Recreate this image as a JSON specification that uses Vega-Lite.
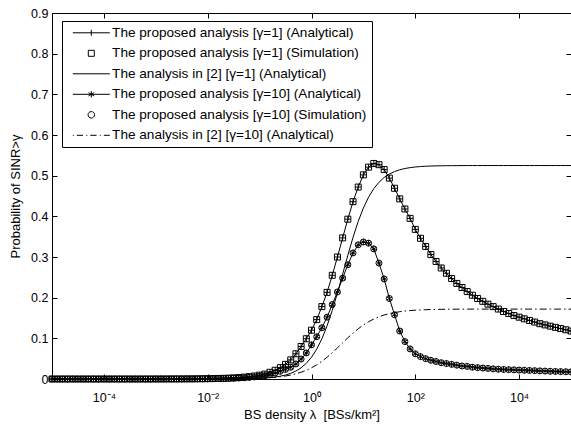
{
  "$schema": "https://vega.github.io/schema/vega-lite/v6.json",
  "autosize": "none",
  "padding": {"left": 52, "top": 13, "right": 0, "bottom": 46},
  "width": 519,
  "height": 366,
  "config": {
    "font": "Liberation Sans",
    "view": {"stroke": "black", "strokeWidth": 1},
    "axis": {"domainColor": "black", "tickColor": "black", "labelColor": "black", "titleColor": "black", "grid": false, "labelFont": "Liberation Sans", "titleFont": "Liberation Sans", "titleFontWeight": "normal", "labelFontSize": 12.5, "titleFontSize": 13, "tickSize": -5, "domainWidth": 1, "tickWidth": 1}
  },
  "data": {"values": [
    {"x":1e-5,"p1":0,"p10":0,"a1":0,"a10":0},
    {"x":1.259e-5,"p1":0,"p10":0,"a1":0,"a10":0},
    {"x":1.585e-5,"p1":0,"p10":0,"a1":0,"a10":0},
    {"x":1.995e-5,"p1":0,"p10":0,"a1":0,"a10":0},
    {"x":2.512e-5,"p1":0,"p10":0,"a1":0,"a10":0},
    {"x":3.162e-5,"p1":0,"p10":0,"a1":0,"a10":0},
    {"x":3.981e-5,"p1":0,"p10":0,"a1":0,"a10":0},
    {"x":5.012e-5,"p1":0,"p10":0,"a1":0,"a10":0},
    {"x":6.31e-5,"p1":0,"p10":0,"a1":0,"a10":0},
    {"x":7.943e-5,"p1":0,"p10":0,"a1":0,"a10":0},
    {"x":1e-4,"p1":0,"p10":0,"a1":0,"a10":0},
    {"x":1.259e-4,"p1":0,"p10":0,"a1":0,"a10":0},
    {"x":1.585e-4,"p1":0,"p10":0,"a1":0,"a10":0},
    {"x":1.995e-4,"p1":0,"p10":0,"a1":0,"a10":0},
    {"x":2.512e-4,"p1":0,"p10":0,"a1":0,"a10":0},
    {"x":3.162e-4,"p1":0,"p10":0,"a1":0,"a10":0},
    {"x":3.981e-4,"p1":0,"p10":0,"a1":0,"a10":0},
    {"x":5.012e-4,"p1":0,"p10":0,"a1":0,"a10":0},
    {"x":6.31e-4,"p1":0,"p10":0,"a1":0,"a10":0},
    {"x":7.943e-4,"p1":0,"p10":0,"a1":0,"a10":0},
    {"x":1e-3,"p1":0.00006,"p10":0.00004,"a1":0,"a10":0.00001},
    {"x":1.259e-3,"p1":0.00008,"p10":0.00005,"a1":0,"a10":0.00001},
    {"x":1.585e-3,"p1":0.0001,"p10":0.00007,"a1":0,"a10":0.00002},
    {"x":1.995e-3,"p1":0.00013,"p10":0.00009,"a1":0.00001,"a10":0.00002},
    {"x":2.512e-3,"p1":0.00017,"p10":0.00012,"a1":0.00001,"a10":0.00003},
    {"x":3.162e-3,"p1":0.00022,"p10":0.00015,"a1":0.00001,"a10":0.00004},
    {"x":3.981e-3,"p1":0.00029,"p10":0.0002,"a1":0.00002,"a10":0.00005},
    {"x":5.012e-3,"p1":0.00037,"p10":0.00026,"a1":0.00002,"a10":0.00006},
    {"x":6.31e-3,"p1":0.00048,"p10":0.00034,"a1":0.00003,"a10":0.00007},
    {"x":7.943e-3,"p1":0.00062,"p10":0.00043,"a1":0.00004,"a10":0.00008},
    {"x":0.01,"p1":0.0008,"p10":0.00056,"a1":0.00005,"a10":0.0001},
    {"x":0.01259,"p1":0.001,"p10":0.0007,"a1":0.00007,"a10":0.00014},
    {"x":0.01585,"p1":0.0013,"p10":0.0009,"a1":0.0001,"a10":0.00018},
    {"x":0.01995,"p1":0.0016,"p10":0.0011,"a1":0.00014,"a10":0.00025},
    {"x":0.02512,"p1":0.0021,"p10":0.0015,"a1":0.0002,"a10":0.00033},
    {"x":0.03162,"p1":0.0027,"p10":0.0019,"a1":0.00028,"a10":0.00044},
    {"x":0.03981,"p1":0.0035,"p10":0.0024,"a1":0.0004,"a10":0.00058},
    {"x":0.05012,"p1":0.0045,"p10":0.0031,"a1":0.00058,"a10":0.00078},
    {"x":0.0631,"p1":0.0058,"p10":0.004,"a1":0.00082,"a10":0.00103},
    {"x":0.07943,"p1":0.0074,"p10":0.0051,"a1":0.00117,"a10":0.00137},
    {"x":0.1,"p1":0.0095,"p10":0.0065,"a1":0.00167,"a10":0.00182},
    {"x":0.1259,"p1":0.012,"p10":0.0082,"a1":0.0024,"a10":0.00242},
    {"x":0.1585,"p1":0.0165,"p10":0.0113,"a1":0.0034,"a10":0.0032},
    {"x":0.1995,"p1":0.0215,"p10":0.0147,"a1":0.0049,"a10":0.0043},
    {"x":0.2512,"p1":0.028,"p10":0.019,"a1":0.0069,"a10":0.0056},
    {"x":0.3162,"p1":0.036,"p10":0.0235,"a1":0.0098,"a10":0.0074},
    {"x":0.3981,"p1":0.047,"p10":0.029,"a1":0.0139,"a10":0.0098},
    {"x":0.5012,"p1":0.062,"p10":0.037,"a1":0.0196,"a10":0.0128},
    {"x":0.631,"p1":0.08,"p10":0.049,"a1":0.0276,"a10":0.0167},
    {"x":0.7943,"p1":0.099,"p10":0.064,"a1":0.0386,"a10":0.0215},
    {"x":1,"p1":0.12,"p10":0.084,"a1":0.0535,"a10":0.0275},
    {"x":1.259,"p1":0.146,"p10":0.104,"a1":0.0732,"a10":0.0348},
    {"x":1.585,"p1":0.178,"p10":0.126,"a1":0.0987,"a10":0.0435},
    {"x":1.995,"p1":0.213,"p10":0.152,"a1":0.1306,"a10":0.0535},
    {"x":2.512,"p1":0.255,"p10":0.183,"a1":0.1685,"a10":0.0647},
    {"x":3.162,"p1":0.3,"p10":0.214,"a1":0.2118,"a10":0.0766},
    {"x":3.981,"p1":0.347,"p10":0.248,"a1":0.2579,"a10":0.089},
    {"x":5.012,"p1":0.393,"p10":0.281,"a1":0.3043,"a10":0.1012},
    {"x":6.31,"p1":0.436,"p10":0.31,"a1":0.3483,"a10":0.1128},
    {"x":7.943,"p1":0.472,"p10":0.33,"a1":0.3875,"a10":0.1234},
    {"x":10,"p1":0.502,"p10":0.337,"a1":0.4205,"a10":0.1328},
    {"x":12.59,"p1":0.521,"p10":0.334,"a1":0.4472,"a10":0.1408},
    {"x":15.85,"p1":0.53,"p10":0.32,"a1":0.468,"a10":0.1475},
    {"x":19.95,"p1":0.527,"p10":0.285,"a1":0.4838,"a10":0.153},
    {"x":25.12,"p1":0.515,"p10":0.246,"a1":0.4955,"a10":0.1573},
    {"x":31.62,"p1":0.494,"p10":0.198,"a1":0.504,"a10":0.1607},
    {"x":39.81,"p1":0.469,"p10":0.158,"a1":0.5101,"a10":0.1634},
    {"x":50.12,"p1":0.443,"p10":0.118,"a1":0.5145,"a10":0.1655},
    {"x":63.1,"p1":0.418,"p10":0.092,"a1":0.5176,"a10":0.1671},
    {"x":79.43,"p1":0.395,"p10":0.074,"a1":0.5198,"a10":0.1683},
    {"x":100,"p1":0.368,"p10":0.062,"a1":0.5213,"a10":0.1692},
    {"x":125.9,"p1":0.346,"p10":0.055,"a1":0.5224,"a10":0.1699},
    {"x":158.5,"p1":0.326,"p10":0.05,"a1":0.5232,"a10":0.1704},
    {"x":199.5,"p1":0.306,"p10":0.046,"a1":0.5237,"a10":0.1708},
    {"x":251.2,"p1":0.289,"p10":0.043,"a1":0.5241,"a10":0.1711},
    {"x":316.2,"p1":0.273,"p10":0.04,"a1":0.5243,"a10":0.1713},
    {"x":398.1,"p1":0.26,"p10":0.038,"a1":0.5245,"a10":0.1715},
    {"x":501.2,"p1":0.247,"p10":0.036,"a1":0.5246,"a10":0.1716},
    {"x":631,"p1":0.235,"p10":0.034,"a1":0.5247,"a10":0.1717},
    {"x":794.3,"p1":0.225,"p10":0.032,"a1":0.5248,"a10":0.1718},
    {"x":1000,"p1":0.215,"p10":0.031,"a1":0.5248,"a10":0.1718},
    {"x":1259,"p1":0.206,"p10":0.029,"a1":0.5249,"a10":0.1719},
    {"x":1585,"p1":0.198,"p10":0.028,"a1":0.5249,"a10":0.1719},
    {"x":1995,"p1":0.191,"p10":0.027,"a1":0.5249,"a10":0.1719},
    {"x":2512,"p1":0.184,"p10":0.026,"a1":0.5249,"a10":0.1719},
    {"x":3162,"p1":0.178,"p10":0.025,"a1":0.5249,"a10":0.1719},
    {"x":3981,"p1":0.172,"p10":0.024,"a1":0.5249,"a10":0.1719},
    {"x":5012,"p1":0.166,"p10":0.0235,"a1":0.5249,"a10":0.1719},
    {"x":6310,"p1":0.161,"p10":0.023,"a1":0.5249,"a10":0.1719},
    {"x":7943,"p1":0.156,"p10":0.0225,"a1":0.5249,"a10":0.1719},
    {"x":10000,"p1":0.152,"p10":0.022,"a1":0.5249,"a10":0.1719},
    {"x":12590,"p1":0.148,"p10":0.0215,"a1":0.5249,"a10":0.1719},
    {"x":15850,"p1":0.144,"p10":0.021,"a1":0.5249,"a10":0.1719},
    {"x":19950,"p1":0.14,"p10":0.0205,"a1":0.5249,"a10":0.1719},
    {"x":25120,"p1":0.136,"p10":0.02,"a1":0.5249,"a10":0.1719},
    {"x":31620,"p1":0.133,"p10":0.0195,"a1":0.5249,"a10":0.1719},
    {"x":39810,"p1":0.13,"p10":0.019,"a1":0.5249,"a10":0.1719},
    {"x":50120,"p1":0.127,"p10":0.0186,"a1":0.5249,"a10":0.1719},
    {"x":63100,"p1":0.124,"p10":0.0182,"a1":0.5249,"a10":0.1719},
    {"x":79430,"p1":0.121,"p10":0.0178,"a1":0.5249,"a10":0.1719},
    {"x":100000,"p1":0.118,"p10":0.0175,"a1":0.5249,"a10":0.1719}
  ]},
  "resolve": {"axis": {"x": "independent", "y": "independent"}},
  "layer": [
    {
      "mark": {"type": "line", "color": "black", "strokeWidth": 1},
      "encoding": {
        "x": {"field": "x", "type": "quantitative", "scale": {"type": "log", "domain": [1e-5, 100000], "nice": false},
          "axis": {"orient": "bottom", "values": [0.0001, 0.01, 1, 100, 10000], "title": "BS density λ\u00a0 [BSs/km²]", "labelExpr": "datum.value < 0.001 ? '10⁻⁴' : datum.value < 0.1 ? '10⁻²' : datum.value < 10 ? '10⁰' : datum.value < 1000 ? '10²' : '10⁴'", "labelPadding": 17, "titlePadding": 5}},
        "y": {"field": "p1", "type": "quantitative", "scale": {"domain": [0, 0.9], "nice": false},
          "axis": {"orient": "left", "values": [0, 0.1, 0.2, 0.3, 0.4, 0.5, 0.6, 0.7, 0.8, 0.9], "labelExpr": "datum.value == 0 ? '0' : format(datum.value, '.1f')", "title": "Probability of SINR>γ", "labelPadding": 9, "titlePadding": 8}}
      }
    },
    {
      "mark": {"type": "point", "shape": "M-1,0L1,0M0,-1L0,1", "filled": false, "color": "black", "opacity": 1, "strokeWidth": 1, "size": 36},
      "encoding": {
        "x": {"field": "x", "type": "quantitative", "axis": {"orient": "top", "values": [0.0001, 0.01, 1, 100, 10000], "labels": false, "title": null}},
        "y": {"field": "p1", "type": "quantitative", "axis": {"orient": "right", "values": [0, 0.1, 0.2, 0.3, 0.4, 0.5, 0.6, 0.7, 0.8, 0.9], "labels": false, "title": null}}
      }
    },
    {
      "mark": {"type": "point", "shape": "square", "filled": false, "color": "black", "opacity": 1, "strokeWidth": 1, "size": 36},
      "encoding": {
        "x": {"field": "x", "type": "quantitative", "axis": null},
        "y": {"field": "p1", "type": "quantitative", "axis": null}
      }
    },
    {
      "mark": {"type": "line", "color": "black", "strokeWidth": 1},
      "encoding": {
        "x": {"field": "x", "type": "quantitative", "axis": null},
        "y": {"field": "a1", "type": "quantitative", "axis": null}
      }
    },
    {
      "mark": {"type": "line", "color": "black", "strokeWidth": 1},
      "encoding": {
        "x": {"field": "x", "type": "quantitative", "axis": null},
        "y": {"field": "p10", "type": "quantitative", "axis": null}
      }
    },
    {
      "mark": {"type": "point", "shape": "M0,-1L0,1M-0.87,-0.5L0.87,0.5M-0.87,0.5L0.87,-0.5", "filled": false, "color": "black", "opacity": 1, "strokeWidth": 1, "size": 36},
      "encoding": {
        "x": {"field": "x", "type": "quantitative", "axis": null},
        "y": {"field": "p10", "type": "quantitative", "axis": null}
      }
    },
    {
      "mark": {"type": "point", "shape": "circle", "filled": false, "color": "black", "opacity": 1, "strokeWidth": 1, "size": 36},
      "encoding": {
        "x": {"field": "x", "type": "quantitative", "axis": null},
        "y": {"field": "p10", "type": "quantitative", "axis": null}
      }
    },
    {
      "mark": {"type": "line", "color": "black", "strokeWidth": 1, "strokeDash": [7, 3, 1.5, 3]},
      "encoding": {
        "x": {"field": "x", "type": "quantitative", "axis": null},
        "y": {"field": "a10", "type": "quantitative", "axis": null}
      }
    },
    {
      "data": {"values": []},
      "mark": {"type": "point", "filled": false, "color": "black", "opacity": 1, "strokeWidth": 1, "size": 100},
      "encoding": {
        "shape": {"field": "s", "type": "nominal",
          "scale": {
            "domain": ["The proposed analysis [γ=1] (Analytical)", "The proposed analysis [γ=1] (Simulation)", "The analysis in [2] [γ=1] (Analytical)", "The proposed analysis [γ=10] (Analytical)", "The proposed analysis [γ=10] (Simulation)", "The analysis in [2] [γ=10] (Analytical)"],
            "range": ["M-3.7,0L3.7,0M0,-0.6L0,0.6", "M-0.6,-0.6L0.6,-0.6L0.6,0.6L-0.6,0.6Z", "M-3.7,0L3.7,0", "M-3.7,0L3.7,0M0,-0.65L0,0.65M-0.56,-0.33L0.56,0.33M-0.56,0.33L0.56,-0.33", "M0.65,0A0.65,0.65,0,1,1,-0.65,0A0.65,0.65,0,1,1,0.65,0Z", "M-3.7,0L-3.5,0M-2.9,0L-1.65,0M-1,0L-0.8,0M-0.2,0L1.05,0M1.7,0L1.9,0M2.5,0L3.7,0"]
          },
          "legend": {"orient": "none", "legendX": 10, "legendY": 8, "title": null, "direction": "vertical", "strokeColor": "black", "fillColor": "white", "padding": 5, "symbolOffset": 17.5, "symbolSize": 100, "symbolStrokeWidth": 1, "symbolStrokeColor": "black", "symbolFillColor": "transparent", "symbolOpacity": 1, "labelFont": "Liberation Sans", "labelFontSize": 13.6, "labelColor": "black", "labelOffset": 14, "rowPadding": 5.5, "labelLimit": 400}
        }
      }
    }
  ]
}
